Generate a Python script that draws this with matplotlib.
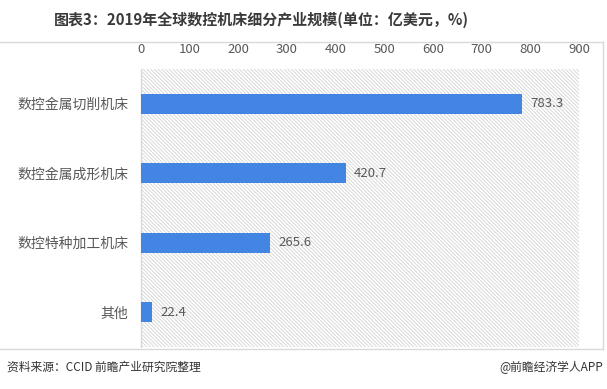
import matplotlib.pyplot as plt
from matplotlib.lines import Line2D
from matplotlib.patches import Rectangle

plt.rcParams['font.family'] = ['Noto Sans CJK SC', 'DejaVu Sans']

categories = ["数控金属切削机床", "数控金属成形机床", "数控特种加工机床", "其他"]
values = [783.3, 420.7, 265.6, 22.4]
xticks = [0, 100, 200, 300, 400, 500, 600, 700, 800, 900]

title = "图表3：2019年全球数控机床细分产业规模(单位：亿美元，%)"
source = "资料来源：CCID 前瞻产业研究院整理"
credit = "@前瞻经济学人APP"

text_color = "#595959"
bar_color = "#4285E2"
frame_color = "#d9d9d9"

fig = plt.figure(figsize=(6.07, 3.89), dpi=100)
ax = fig.add_axes([0.2323, 0.108, 0.7216, 0.7147])

# hatched plot background
plt.rcParams['hatch.color'] = "#d2d2d2"
plt.rcParams['hatch.linewidth'] = 0.6
ax.add_patch(Rectangle((0, 0), 1, 1, transform=ax.transAxes, facecolor="white",
                       edgecolor="#d2d2d2", hatch="\\" * 9, linewidth=0, zorder=0))

y = list(range(len(categories)))
ax.barh(y, values, height=0.29, color=bar_color, zorder=3)
for yi, v in zip(y, values):
    ax.annotate(f"{v:.1f}", (v, yi), xytext=(6, 0), textcoords="offset points",
                va="center", ha="left", fontsize=9.5, color=text_color, zorder=4)

ax.set_xlim(0, 900)
ax.set_ylim(len(categories) - 0.5, -0.5)
ax.set_yticks(y)
ax.set_yticklabels(categories, fontsize=10, color=text_color)
ax.set_xticks(xticks)
ax.set_xticklabels([str(t) for t in xticks], fontsize=9.5, color=text_color)
ax.xaxis.tick_top()
ax.tick_params(axis="x", length=0, pad=9)
ax.tick_params(axis="y", length=0, pad=9)
for s in ["top", "right", "bottom"]:
    ax.spines[s].set_visible(False)
ax.spines["left"].set_color(frame_color)
ax.spines["left"].set_linewidth(1.0)

# outer frame
W, H = 607, 389
def fx(px):
    return px / W
def fy(py):
    return 1 - py / H
fig.add_artist(Line2D([0, fx(603)], [fy(42), fy(42)], color=frame_color, lw=1.0))
fig.add_artist(Line2D([fx(603), fx(603)], [fy(42), fy(349)], color=frame_color, lw=1.0))
fig.add_artist(Line2D([0, fx(603)], [fy(349), fy(349)], color=frame_color, lw=1.0))

fig.text(fx(261), fy(20), title, ha="center", va="center", fontsize=10.8,
         fontweight="bold", color="#3a3a3a")
fig.text(fx(7), fy(367), source, ha="left", va="center", fontsize=8.5, color="#333333")
fig.text(fx(603), fy(367), credit, ha="right", va="center", fontsize=8.5, color="#333333")

fig.savefig("out.png", dpi=100)
